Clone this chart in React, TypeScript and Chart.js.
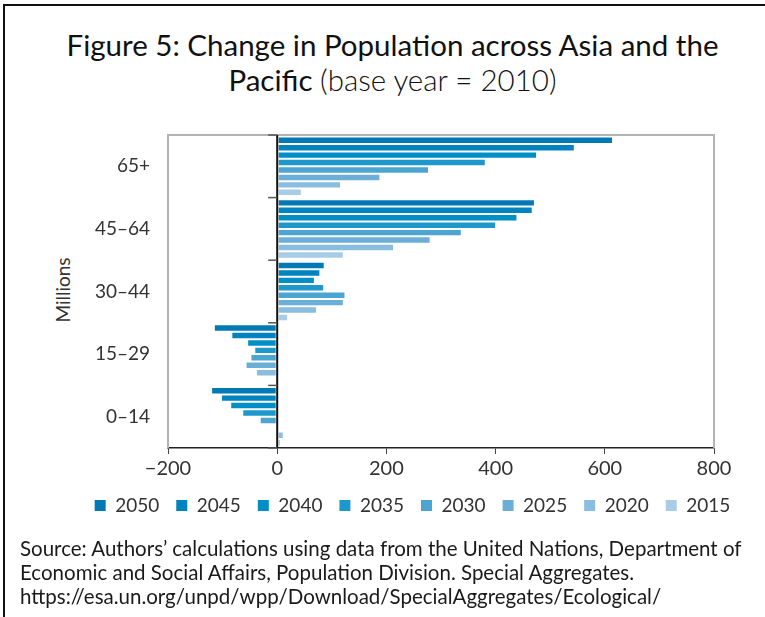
import React, { useEffect, useRef } from "react";
import { Chart, registerables } from "chart.js";

Chart.register(...registerables);

const categories = ["65+", "45–64", "30–44", "15–29", "0–14"];
const years = ["2050", "2045", "2040", "2035", "2030", "2025", "2020", "2015"];
const v2050 = [615, 472, 87, -116, -121];
const v2045 = [545, 468, 79, -84, -103];
const v2040 = [476, 440, 69, -55, -86];
const v2035 = [382, 401, 86, -42, -64];
const v2030 = [278, 338, 125, -49, -32];
const v2025 = [189, 281, 122, -58, 0];
const v2020 = [117, 214, 73, -39, 12];
const v2015 = [45, 122, 20, 0, 7];
const seriesValues = [v2050, v2045, v2040, v2035, v2030, v2025, v2020, v2015];
const colors = ["#0079B4", "#0083BE", "#008EC6", "#1E98CA", "#4CA4D1", "#6BAFD8", "#89BEE0", "#A8CCE7"];
const xTicks = [-200, 0, 200, 400, 600, 800];

const FONT = "Lato, 'Open Sans', sans-serif";

const deco = {
  id: "deco",
  beforeDatasetsDraw(chart: any) {
    const { ctx, chartArea: a } = chart;
    ctx.save();
    ctx.strokeStyle = "#b3b3b3";
    ctx.lineWidth = 2;
    ctx.beginPath();
    ctx.moveTo(a.left, a.bottom);
    ctx.lineTo(a.left, a.top);
    ctx.lineTo(a.right, a.top);
    ctx.lineTo(a.right, a.bottom);
    ctx.stroke();
    ctx.restore();
  },
  afterDatasetsDraw(chart: any) {
    const { ctx, chartArea: a } = chart;
    const x0 = chart.scales.x.getPixelForValue(0);
    ctx.save();
    ctx.strokeStyle = "#111";
    ctx.lineWidth = 2;
    ctx.beginPath();
    ctx.moveTo(x0, a.top);
    ctx.lineTo(x0, a.bottom);
    ctx.stroke();
    ctx.strokeStyle = "#555";
    ctx.lineWidth = 1.5;
    const n = categories.length;
    for (let i = 0; i <= n; i++) {
      const yy = a.top + (i * (a.bottom - a.top)) / n;
      ctx.beginPath();
      ctx.moveTo(x0 - 9, yy);
      ctx.lineTo(x0, yy);
      ctx.stroke();
    }
    ctx.restore();
  },
};

function BarChart() {
  const ref = useRef<HTMLCanvasElement>(null);
  useEffect(() => {
    if (!ref.current) return;
    const chart = new Chart(ref.current, {
      type: "bar",
      data: {
        labels: categories,
        datasets: years.map((y, i) => ({
          label: y,
          data: seriesValues[i],
          backgroundColor: colors[i],
          borderColor: "rgba(255,255,255,0.45)",
          borderWidth: 1,
          borderSkipped: false,
          categoryPercentage: 0.95,
          barPercentage: 1,
        })),
      },
      options: {
        indexAxis: "y",
        animation: false,
        responsive: false,
        maintainAspectRatio: false,
        layout: { padding: { left: 60, right: 0, top: 25, bottom: 15 } },
        plugins: {
          tooltip: { enabled: false },
          legend: {
            position: "bottom",
            labels: {
              boxWidth: 11,
              boxHeight: 11,
              padding: 17,
              color: "#333",
              font: { family: FONT, size: 19 },
              generateLabels: () =>
                years.map((y, i) => ({
                  text: y,
                  fillStyle: colors[i],
                  strokeStyle: colors[i],
                  lineWidth: 0,
                  hidden: false,
                  datasetIndex: i,
                  fontColor: "#333",
                })),
            },
          },
        },
        scales: {
          x: {
            type: "linear",
            min: -200,
            max: 800,
            afterBuildTicks: (s: any) => {
              s.ticks = xTicks.map((v) => ({ value: v }));
            },
            afterFit: (s: any) => {
              s.height = 31;
            },
            grid: { drawOnChartArea: false, drawTicks: true, tickLength: 6, color: "#444", lineWidth: 1 },
            border: { display: true, color: "#222", width: 1.5 },
            ticks: {
              padding: 3,
              color: "#333",
              font: { family: FONT, size: 20 },
              callback: (v: any) => String(v).replace("-", "\u2212"),
            },
          },
          y: {
            type: "category",
            afterFit: (s: any) => {
              s.width = 108;
              s.paddingTop = 0;
              s.paddingBottom = 0;
            },
            grid: { display: false, drawTicks: false },
            border: { display: false },
            ticks: { padding: 18, color: "#333", font: { family: FONT, size: 19 } },
          },
          yr: {
            type: "linear",
            position: "right",
            display: true,
            afterFit: (s: any) => {
              s.width = 51;
              s.paddingTop = 0;
              s.paddingBottom = 0;
            },
            grid: { display: false, drawTicks: false },
            border: { display: false },
            ticks: { display: false },
          },
        },
      },
      plugins: [deco],
    } as any);
    return () => chart.destroy();
  }, []);
  return (
    <canvas
      ref={ref}
      width={765}
      height={430}
      style={{ position: "absolute", left: 0, top: 110, width: 765, height: 430 }}
    />
  );
}

export default function App() {
  return (
    <div
      style={{
        position: "fixed",
        left: 0,
        top: 0,
        width: 765,
        height: 617,
        background: "#fff",
        overflow: "hidden",
        fontFamily: FONT,
        color: "#1a1a1a",
      }}
    >
      <div
        style={{
          position: "absolute",
          left: 3,
          top: 4,
          width: 770,
          height: 620,
          borderLeft: "2px solid #111",
          borderTop: "2px solid #111",
        }}
      />
      <div
        style={{
          position: "absolute",
          left: 10,
          top: 27,
          width: 765,
          textAlign: "center",
          fontSize: 29.5,
          lineHeight: "35px",
          color: "#111",
        }}
      >
        <div>Figure 5: Change in Population across Asia and the</div>
        <div>
          Pacific <span style={{ fontWeight: 300 }}>(base year = 2010)</span>
        </div>
      </div>
      <div
        style={{
          position: "absolute",
          left: 62,
          top: 290,
          transform: "translate(-50%, -50%) rotate(-90deg)",
          fontSize: 19,
          color: "#333",
          whiteSpace: "nowrap",
        }}
      >
        Millions
      </div>
      <BarChart />
      <div
        style={{
          position: "absolute",
          left: 20,
          top: 536,
          fontSize: 20.5,
          lineHeight: "24px",
          color: "#1a1a1a",
          whiteSpace: "nowrap",
        }}
      >
        <div>Source: Authors’ calculations using data from the United Nations, Department of</div>
        <div>Economic and Social Affairs, Population Division. Special Aggregates.</div>
        <div>https://esa.un.org/unpd/wpp/Download/SpecialAggregates/Ecological/</div>
      </div>
    </div>
  );
}
